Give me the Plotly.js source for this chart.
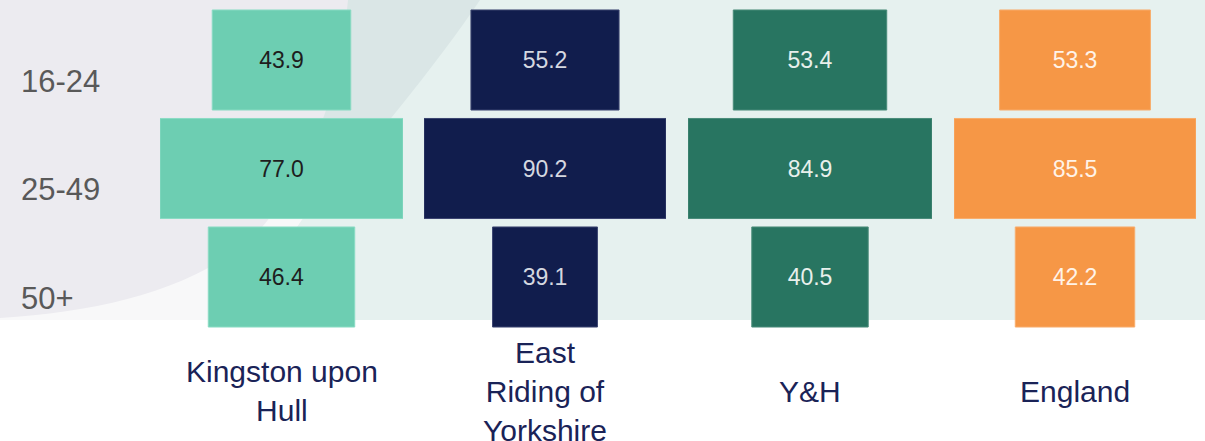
<!DOCTYPE html>
<html>
<head>
<meta charset="utf-8">
<script src="https://cdn.plot.ly/plotly-3.0.1.min.js"></script>
<style>
  html, body { margin: 0; padding: 0; background: #ffffff; }
  #chart { width: 1205px; height: 441px; }
</style>
</head>
<body>
<div id="chart"></div>
<script>
// ---- data ----
const ageGroups = ['16-24', '25-49', '50+'];
const areaNames = ['Kingston upon Hull', 'East Riding of Yorkshire', 'Y&H', 'England'];
const areaLabels = ['Kingston upon<br>Hull', 'East<br>Riding of<br>Yorkshire', 'Y&H', 'England'];
const hullValues = [43.9, 77.0, 46.4];
const eastRidingValues = [55.2, 90.2, 39.1];
const yhValues = [53.4, 84.9, 40.5];
const englandValues = [53.3, 85.5, 42.2];

// ---- styles ----
const W = 1205, H = 441;
const seriesValues = [hullValues, eastRidingValues, yhValues, englandValues];
const barColors = ['#6DCEB2', '#111D4D', '#287561', '#F69746'];
const lineColors = ['#8ADBC4', '#3B4470', '#4A8C7A', '#F8AD6C'];
const textColors = ['#1E1E1E', '#D5D8E0', '#E8F0EC', '#FFF3E8'];
const domainsPx = [[160, 403], [424, 666], [688, 932], [954, 1196]];
const plotTopPx = 5.75, plotBottomPx = 331.25;
const FONT = '"Liberation Sans", Arial, sans-serif';

const axisNames = ['x', 'x2', 'x3', 'x4'];
const traces = seriesValues.map((vals, i) => ({
  type: 'bar',
  orientation: 'h',
  name: areaNames[i],
  y: ageGroups,
  x: vals,
  base: vals.map(v => -v / 2),
  xaxis: axisNames[i],
  yaxis: 'y',
  marker: { color: barColors[i], line: { color: lineColors[i], width: 1 } },
  text: vals.map(v => v.toFixed(1)),
  texttemplate: '%{text}',
  textposition: 'inside',
  insidetextanchor: 'middle',
  textangle: 0,
  constraintext: 'none',
  textfont: { family: FONT, size: 23, color: textColors[i] },
  hoverinfo: 'skip',
  showlegend: false
}));

function P(x, y) { return (x / W).toFixed(5) + ',' + (1 - y / H).toFixed(5); }

const shapes = [
  // light teal band
  { type: 'rect', xref: 'paper', yref: 'paper', layer: 'below',
    x0: 0, x1: 1, y0: 1 - 320 / H, y1: 1, fillcolor: '#E6F1EF', line: { width: 0 } },
  // darker ring (upper part)
  { type: 'path', xref: 'paper', yref: 'paper', layer: 'below', line: { width: 0 }, fillcolor: '#DAE6E6',
    path: 'M' + P(0, 0) + ' L' + P(480, 0) + ' C' + P(440, 60) + ' ' + P(360, 160) + ' ' + P(302, 220) +
          ' C' + P(280, 250) + ' ' + P(265, 290) + ' ' + P(260, 320) + ' L' + P(0, 320) + ' Z' },
  // pale ring (lower part)
  { type: 'path', xref: 'paper', yref: 'paper', layer: 'below', line: { width: 0 }, fillcolor: '#F8F8F9',
    path: 'M' + P(0, 169) + ' L' + P(349, 169) + ' L' + P(302, 220) +
          ' C' + P(280, 250) + ' ' + P(265, 290) + ' ' + P(260, 320) + ' L' + P(0, 320) + ' Z' },
  // grey disc
  { type: 'path', xref: 'paper', yref: 'paper', layer: 'below', line: { width: 0 }, fillcolor: '#ECEBF0',
    path: 'M' + P(0, 0) + ' L' + P(348, 0) + ' C' + P(340, 90) + ' ' + P(310, 180) + ' ' + P(250, 240) +
          ' C' + P(190, 290) + ' ' + P(100, 312) + ' ' + P(0, 318) + ' Z' }
];

const layout = {
  width: W, height: H,
  margin: { l: 0, r: 0, t: 0, b: 0, pad: 0 },
  paper_bgcolor: '#ffffff',
  plot_bgcolor: 'rgba(0,0,0,0)',
  barmode: 'overlay',
  bargap: 0.078,
  showlegend: false,
  shapes: shapes,
  font: { family: FONT },
  yaxis: {
    type: 'category',
    categoryorder: 'array',
    categoryarray: ageGroups,
    range: [2.5, -0.5],
    domain: [1 - plotBottomPx / H, 1 - plotTopPx / H],
    anchor: 'free',
    position: 0,
    showgrid: false, zeroline: false, showline: false, ticks: '',
    ticklabelposition: 'inside',
    ticklabelstandoff: 17,
    ticklabelshift: -21,
    tickfont: { family: FONT, size: 31, color: '#595959' },
    fixedrange: true
  },
  annotations: areaLabels.map((t, i) => ({
    text: t,
    xref: (i === 0 ? 'x' : 'x' + (i + 1)) + ' domain',
    yref: 'paper',
    x: 0.5, y: 1 - 391 / H,
    xanchor: 'center', yanchor: 'middle',
    showarrow: false,
    align: 'center',
    font: { family: FONT, size: 30, color: '#1A2357' }
  }))
};

seriesValues.forEach((vals, i) => {
  const M = Math.max(...vals);
  const key = i === 0 ? 'xaxis' : 'xaxis' + (i + 1);
  layout[key] = {
    domain: [domainsPx[i][0] / W, domainsPx[i][1] / W],
    range: [-M / 2, M / 2],
    anchor: 'y',
    visible: false,
    fixedrange: true
  };
});

Plotly.newPlot('chart', traces, layout, { displayModeBar: false, staticPlot: true });
</script>
</body>
</html>
